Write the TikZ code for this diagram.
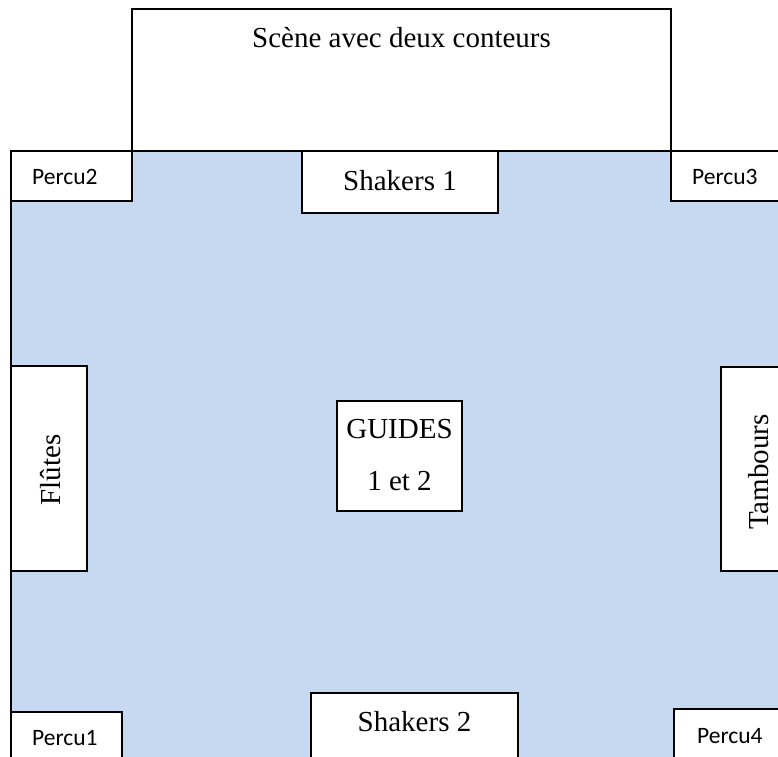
\documentclass[tikz,border=0pt]{standalone}
\usepackage{fontspec}
\setmainfont{Liberation Serif}
\newfontfamily\calibrifont{Carlito}
\definecolor{floorblue}{HTML}{C6D9F1}
\tikzset{
  wall/.style={draw=black, line width=1.8pt},
  whitebox/.style={wall, fill=white},
  serif/.style={font=\fontsize{29}{34}\selectfont, inner sep=0pt},
  sans/.style={font=\calibrifont\fontsize{23.5}{28}\selectfont, inner sep=0pt}
}
\begin{document}
\begin{tikzpicture}[x=1pt,y=-1pt]
\useasboundingbox (0,0) rectangle (778,756);
\clip (0,0) rectangle (778,756);
\fill[white] (0,0) rectangle (778,756);
% floor
\draw[wall, fill=floorblue] (11,151) rectangle (800,800);
% stage
\draw[whitebox] (132,9) rectangle (671,151);
% boxes
\draw[whitebox] (11,151) rectangle (132,201);   % Percu2
\draw[whitebox] (302,151) rectangle (498,213);  % Shakers 1
\draw[whitebox] (671,151) rectangle (800,201);  % Percu3
\draw[whitebox] (11,366) rectangle (87,571);    % Flutes
\draw[whitebox] (721,367) rectangle (797,571);  % Tambours
\draw[whitebox] (337,401) rectangle (462,511);  % Guides
\draw[whitebox] (11,712) rectangle (122,800);   % Percu1
\draw[whitebox] (311,693) rectangle (518,800);  % Shakers 2
\draw[whitebox] (674,709) rectangle (800,800);  % Percu4
% texts
\node[serif, anchor=base] (stage) at (401.5,47) {Scène avec deux conteurs};
\node[serif, anchor=base] (sh1) at (400,190) {Shakers 1};
\node[serif, anchor=base] (sh2) at (414.5,731) {Shakers 2};
\node[serif, anchor=base] (guides) at (399.5,438) {GUIDES};
\node[serif, anchor=base] (guidesb) at (399.5,490) {1 et 2};
\node[serif, anchor=base, rotate=90] (flutes) at (60,470) {Flûtes};
\node[serif, anchor=base, rotate=90] (tambours) at (768,472) {Tambours};
\node[sans, anchor=base west] (p2) at (32,184) {Percu2};
\node[sans, anchor=base west] (p3) at (692,184) {Percu3};
\node[sans, anchor=base west] (p1) at (32,745) {Percu1};
\node[sans, anchor=base west] (p4) at (697,743) {Percu4};
\end{tikzpicture}
\end{document}
